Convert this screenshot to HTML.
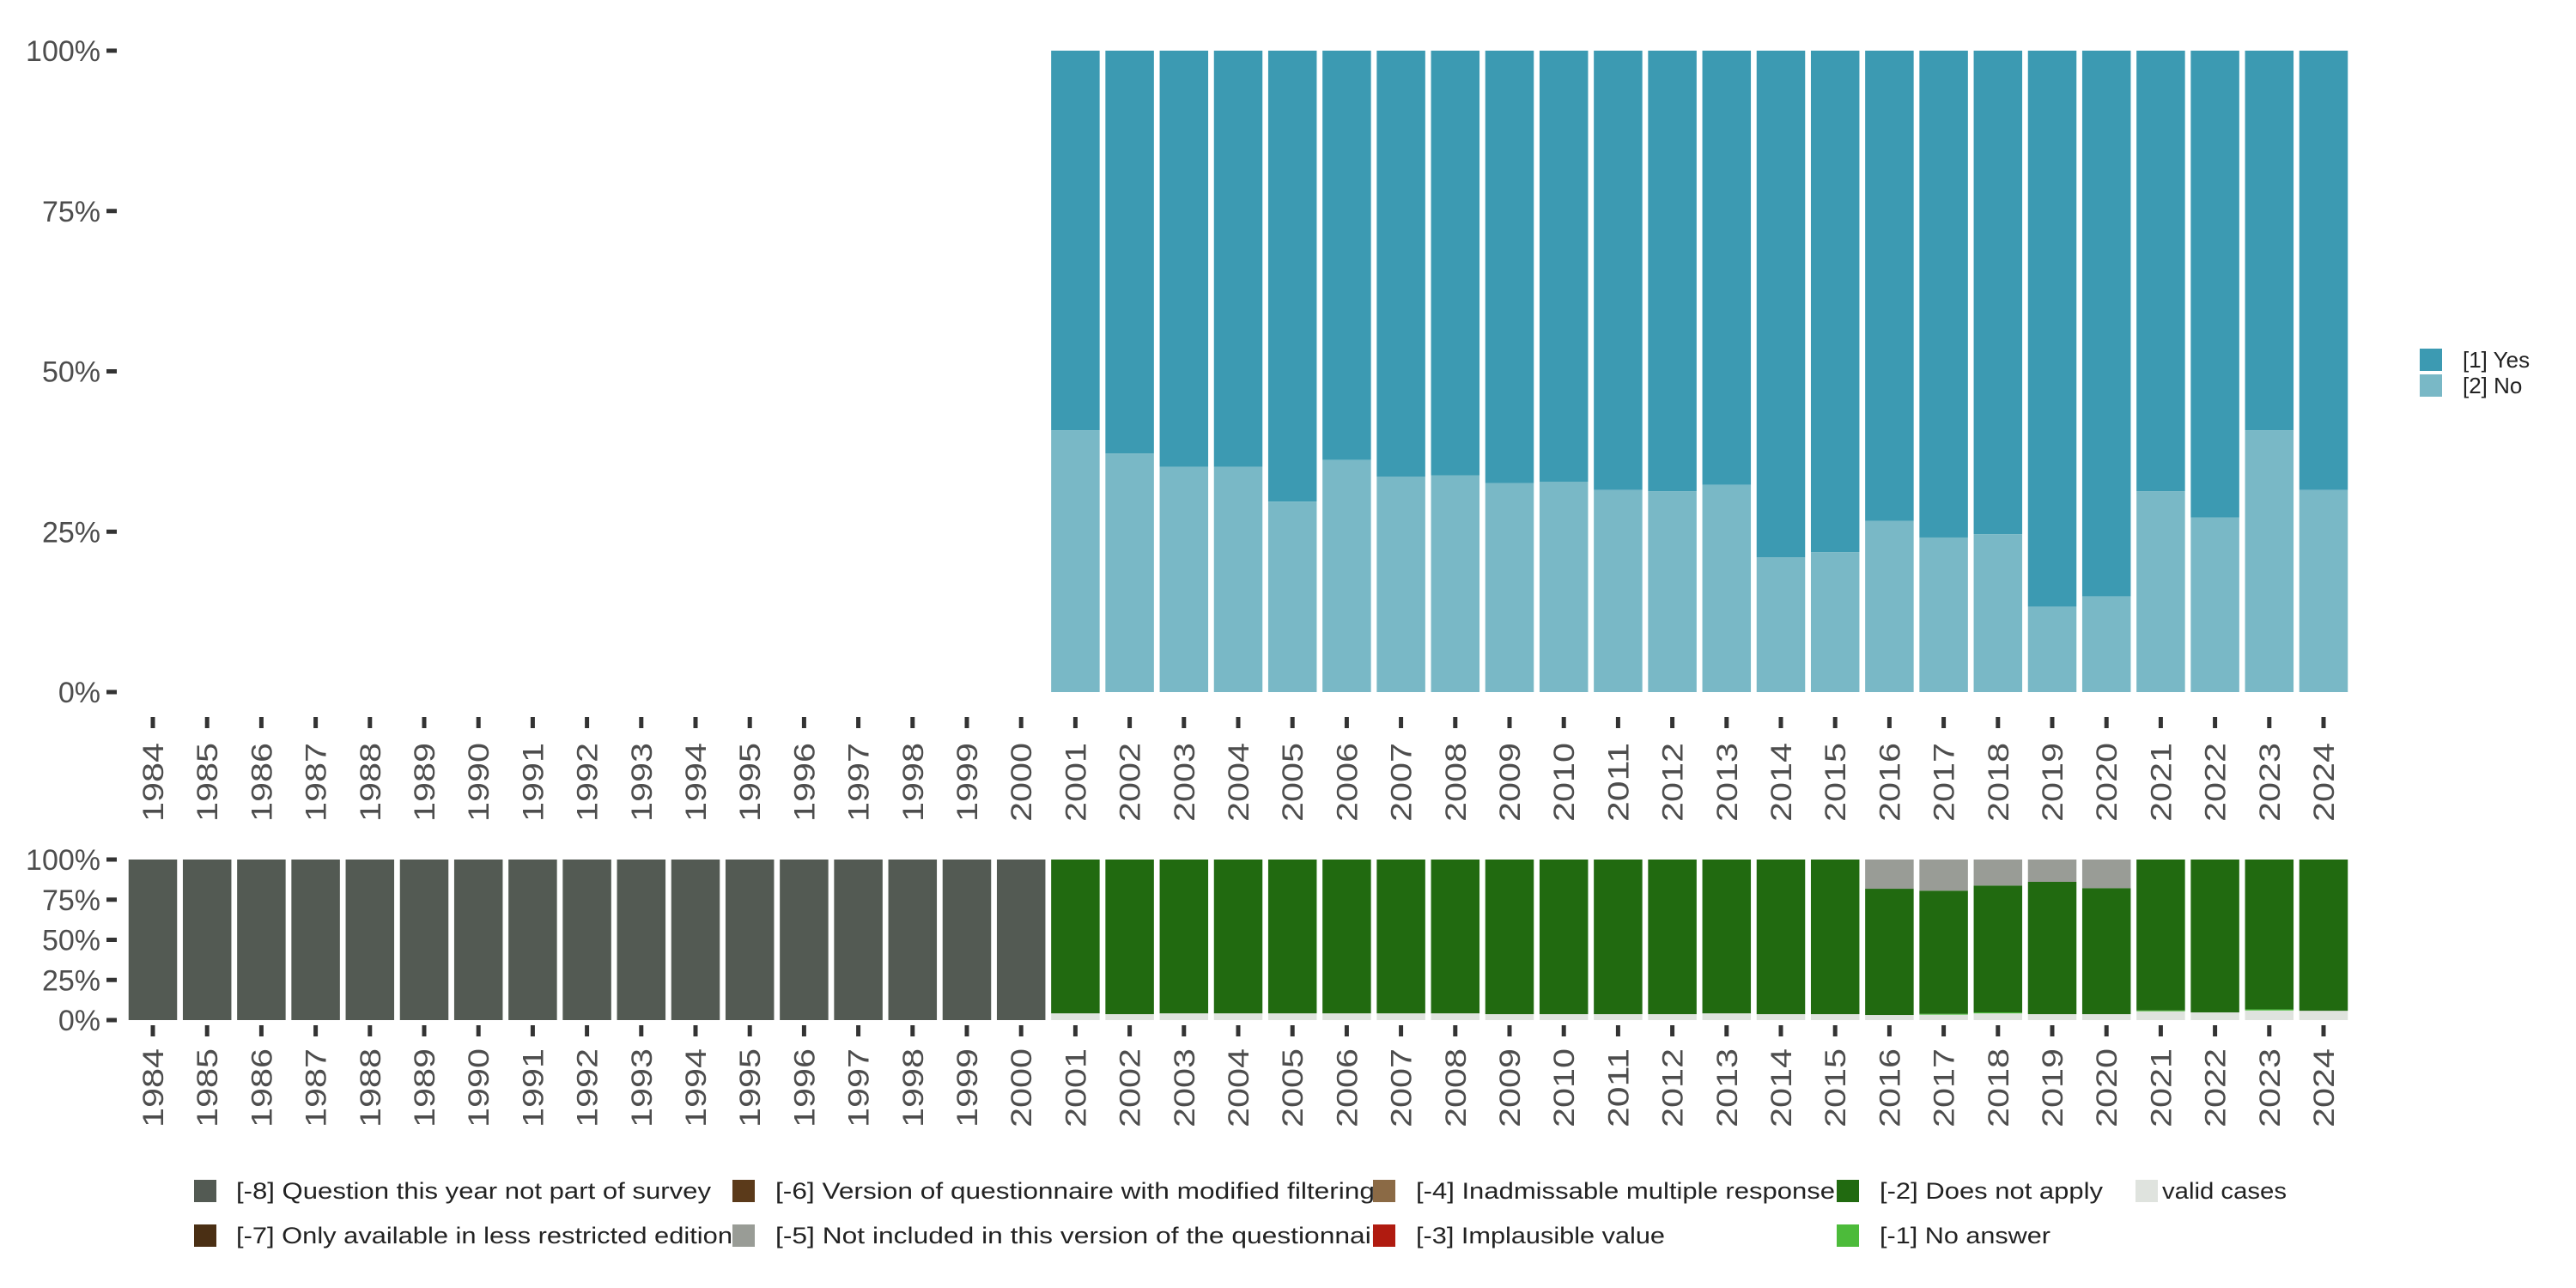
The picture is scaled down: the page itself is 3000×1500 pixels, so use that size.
<!DOCTYPE html>
<html><head><meta charset="utf-8"><style>
html,body{margin:0;padding:0;background:#fff;}
svg{display:block;font-family:"Liberation Sans","DejaVu Sans",sans-serif;}
</style></head><body>
<svg id="c" width="3000" height="1500" viewBox="0 0 3000 1500"></svg>
<script>
const years=[1984,1985,1986,1987,1988,1989,1990,1991,1992,1993,1994,1995,1996,1997,1998,1999,2000,2001,2002,2003,2004,2005,2006,2007,2008,2009,2010,2011,2012,2013,2014,2015,2016,2017,2018,2019,2020,2021,2022,2023,2024];
// top: share of "No" (%) ; null = no data
const noShare=[null,null,null,null,null,null,null,null,null,null,null,null,null,null,null,null,null,40.8,37.2,35.1,35.1,29.7,36.2,33.6,33.8,32.6,32.8,31.5,31.3,32.3,21.0,21.8,26.7,24.1,24.6,13.3,14.9,31.3,27.2,40.8,31.5];
// bottom panel shares (%)
const validShare=[0,0,0,0,0,0,0,0,0,0,0,0,0,0,0,0,0,4.2,3.7,4.2,4.2,4.2,4.2,4.2,4.2,3.7,3.7,3.7,3.7,4.2,3.7,3.7,3.2,3.4,4.2,3.7,3.7,5.5,4.8,6.0,5.8];
const minusOne=[0,0,0,0,0,0,0,0,0,0,0,0,0,0,0,0,0,0,0,0,0,0,0,0,0,0,0,0,0,0,0,0,0,0.5,0.6,0,0,0.5,0,0.7,0];
const minusFive=[0,0,0,0,0,0,0,0,0,0,0,0,0,0,0,0,0,0,0,0,0,0,0,0,0,0,0,0,0,0,0,0,18.2,19.4,16.2,13.9,17.8,0,0,0,0];
const minusEight=[100,100,100,100,100,100,100,100,100,100,100,100,100,100,100,100,100,0,0,0,0,0,0,0,0,0,0,0,0,0,0,0,0,0,0,0,0,0,0,0,0];
const yTicks=[0,25,50,75,100];
const yTickLabels=["0%","25%","50%","75%","100%"];

const NS="http://www.w3.org/2000/svg";
const svg=document.getElementById('c');
function mk(tag,attrs,parent){const e=document.createElementNS(NS,tag);for(const k in attrs)e.setAttribute(k,attrs[k]);(parent||svg).appendChild(e);return e;}
const x0=178,step=63.2,bw=56.5;
const xc=i=>x0+i*step;
const yTop=v=>806-v/100*747;
const yBot=v=>1188-v/100*187;
const txt='#4d4d4d';

const gT=mk('g',{});


yTicks.forEach((t,k)=>{
  const y=yTop(t);
  const l=mk('text',{x:117,y:y+12,'text-anchor':'end','font-size':34,fill:txt},gT);
  l.textContent=yTickLabels[k];
  
  
  mk('line',{x1:124,x2:136,y1:y,y2:y,stroke:'#333','stroke-width':5},gT);
});
years.forEach((yr,i)=>{
  const x=xc(i);
  if(noShare[i]!==null){
    const r1=mk('rect',{x:x-bw/2,y:yTop(100),width:bw,height:yTop(noShare[i])-yTop(100),fill:'#3c9ab2'},gT);
    
    
    const r2=mk('rect',{x:x-bw/2,y:yTop(noShare[i]),width:bw,height:yTop(0)-yTop(noShare[i]),fill:'#79b8c6'},gT);
    
    
  }
  mk('line',{x1:x,x2:x,y1:835,y2:848,stroke:'#333','stroke-width':5},gT);
  const t=mk('text',{x:0,y:0,'font-size':34,fill:txt,textLength:92,lengthAdjust:'spacingAndGlyphs',transform:`translate(${x+12},${957}) rotate(-90)`},gT);
  t.textContent=yr;
  
  
});

const gB=mk('g',{});


yTicks.forEach((t,k)=>{
  const y=yBot(t);
  const l=mk('text',{x:117,y:y+12,'text-anchor':'end','font-size':34,fill:txt},gB);
  l.textContent=yTickLabels[k];
  
  
  mk('line',{x1:124,x2:136,y1:y,y2:y,stroke:'#333','stroke-width':5},gB);
});
years.forEach((yr,i)=>{
  const x=xc(i);
  let acc=0;
  const segs=[[validShare[i],'#dfe3de','valid'],[minusOne[i],'#4cbb3a','minus1'],[100-validShare[i]-minusOne[i]-minusFive[i]-minusEight[i],'#216a10','minus2'],[minusFive[i],'#999c96','minus5'],[minusEight[i],'#535a53','minus8']];
  segs.forEach(s=>{
    if(s[0]<=0)return;
    const r=mk('rect',{x:x-bw/2,y:yBot(acc+s[0]),width:bw,height:yBot(acc)-yBot(acc+s[0]),fill:s[1]},gB);
    
    
    acc+=s[0];
  });
  mk('line',{x1:x,x2:x,y1:1194,y2:1207,stroke:'#333','stroke-width':5},gB);
  const t=mk('text',{x:0,y:0,'font-size':34,fill:txt,textLength:92,lengthAdjust:'spacingAndGlyphs',transform:`translate(${x+12},${1313}) rotate(-90)`},gB);
  t.textContent=yr;
  
  
});

const gL=mk('g',{});


[['[1] Yes','#3c9ab2',406],['[2] No','#79b8c6',436]].forEach(d=>{
  mk('rect',{x:2818,y:d[2],width:26,height:26,fill:d[1]},gL);
  const t=mk('text',{x:2868,y:d[2]+22,'font-size':26,fill:'#222'},gL);
  t.textContent=d[0];
  
  
});

const gL2=mk('g',{});


const leg=[
 ['[-8] Question this year not part of survey','#535a53',226,1374,553,275],
 ['[-7] Only available in less restricted edition','#4a2f14',226,1426,578,275],
 ['[-6] Version of questionnaire with modified filtering','#5b3a1a',853,1374,698,903],
 ['[-5] Not included in this version of the questionnaire','#999c96',853,1426,722,903],
 ['[-4] Inadmissable multiple response','#8b6a45',1599,1374,488,1649],
 ['[-3] Implausible value','#b01b10',1599,1426,290,1649],
 ['[-2] Does not apply','#216a10',2139,1374,260,2189],
 ['[-1] No answer','#4cbb3a',2139,1426,199,2189],
 ['valid cases','#dfe3de',2487,1374,145,2518]];
leg.forEach(d=>{
  mk('rect',{x:d[2],y:d[3],width:26,height:26,fill:d[1]},gL2);
  const t=mk('text',{x:d[5],y:d[3]+22,'font-size':27,fill:'#222',textLength:d[4],lengthAdjust:'spacingAndGlyphs'},gL2);
  t.textContent=d[0];
  
  
});
</script>
</body></html>
